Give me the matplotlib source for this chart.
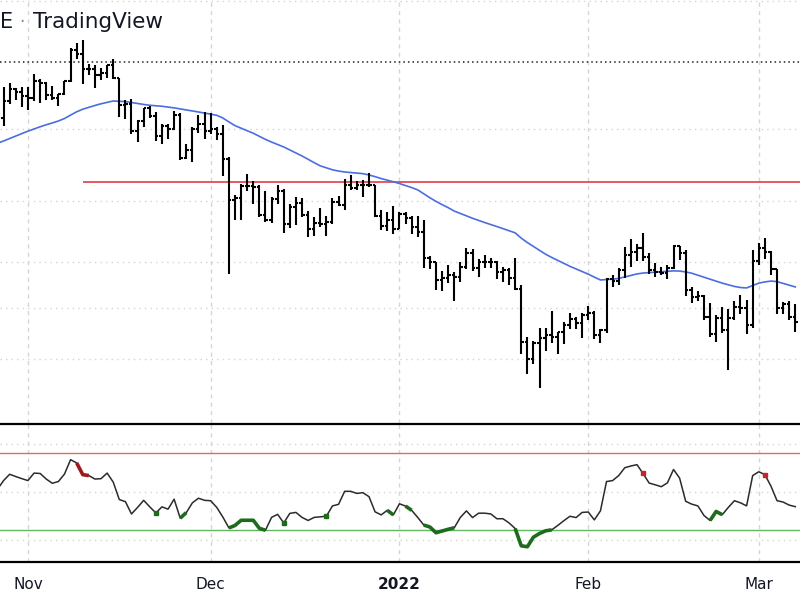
import matplotlib
matplotlib.use("Agg")
import matplotlib.pyplot as plt
import matplotlib.dates as mdates
import numpy as np
import pandas as pd

# Daily bars, 27 Oct 2021 - 7 Mar 2022
dates = pd.date_range("2021-10-27", "2022-03-07", freq="D")

opens = [60350, 58450, 60620, 62250, 61850, 61320, 61000, 63230, 62930, 61400,
         61000, 61500, 63300, 67550, 66950, 64900, 64900, 64100, 64400, 65500,
         63600, 60100, 60300, 56900, 58100, 59700, 58700, 56300, 57500, 57100,
         58900, 53700, 54700, 57200, 57800, 56900, 57200, 56500, 53600, 49200,
         49400, 50600, 50600, 50500, 47600, 47100, 49300, 50100, 46700, 48400,
         48900, 47600, 46200, 46800, 46700, 46900, 49000, 48600, 50800, 50400,
         50800, 50700, 50700, 47500, 46500, 47100, 46200, 47700, 47300, 46400,
         45900, 43500, 43100, 41500, 41700, 41900, 41800, 42700, 43900, 42600,
         43100, 43100, 43100, 42200, 42400, 41700, 40700, 36400, 35100, 36300,
         36700, 36900, 36800, 37200, 37700, 38200, 37900, 38500, 38700, 36900,
         37300, 41600, 41400, 42400, 43800, 44000, 44400, 43600, 42400, 42200,
         42100, 42600, 44600, 43900, 40600, 40000, 40100, 38400, 37000, 38300,
         37300, 38300, 39200, 39100, 37700, 43200, 44400, 44000, 42500, 39100,
         39400, 38400]
highs = [61500, 62480, 62930, 62300, 62400, 62400, 64250, 63500, 63100, 62600,
         61600, 63300, 67800, 68500, 69000, 65600, 65400, 65000, 65500, 66300,
         63600, 60800, 60900, 58300, 59800, 60000, 59200, 57800, 57700, 59400,
         59100, 55300, 57400, 58900, 59200, 59100, 57400, 57600, 53900, 49700,
         50900, 51900, 51200, 50800, 50100, 49500, 50800, 50300, 48700, 49500,
         49400, 48000, 47400, 48300, 47500, 49400, 49600, 51400, 51800, 51200,
         51300, 52100, 50700, 48100, 47900, 48500, 47900, 47900, 47500, 47500,
         47100, 43700, 43100, 42300, 42800, 42200, 43100, 44400, 44300, 43400,
         43800, 43500, 43200, 42700, 42600, 43500, 41100, 36800, 36500, 37500,
         37500, 38900, 37200, 38000, 38700, 38400, 38700, 39300, 38900, 37400,
         41700, 41900, 42600, 44500, 45300, 44800, 45800, 43900, 43000, 42700,
         42800, 44700, 44600, 44200, 40900, 40500, 40200, 39500, 38500, 39200,
         39000, 39700, 40200, 39800, 44200, 44900, 45400, 44100, 42500, 39600,
         39700, 39400]
lows = [58000, 57450, 60200, 60700, 59900, 59500, 60650, 60400, 60700, 60800,
        60000, 61400, 63100, 66300, 62800, 64100, 62300, 63400, 63600, 63500,
        58600, 58400, 56500, 55600, 57400, 58500, 55700, 55300, 55900, 57000,
        53500, 53600, 53300, 56700, 55900, 56500, 55800, 51700, 42000, 47100,
        47100, 50100, 48700, 47400, 46900, 46800, 48700, 45800, 46300, 46600,
        47400, 45500, 45600, 46400, 45600, 46700, 48500, 48100, 50200, 50200,
        49500, 50500, 47400, 46100, 46000, 45700, 46200, 46700, 45700, 45500,
        42600, 42500, 40600, 40500, 41200, 39700, 41300, 42500, 42300, 41800,
        42600, 42600, 41600, 41300, 41100, 40600, 35500, 34000, 34700, 33000,
        35700, 36300, 35500, 36200, 37400, 37400, 36700, 38100, 36600, 36300,
        37100, 40900, 41100, 41700, 42700, 43200, 43200, 42000, 41800, 41900,
        41600, 42500, 43300, 40100, 39500, 39700, 38100, 36800, 36400, 37100,
        34300, 38100, 38600, 37000, 37500, 42800, 43400, 41900, 38600, 38600,
        38100, 37200]
closes = [58450, 60620, 62250, 61850, 61320, 61000, 63230, 62930, 61400, 61000,
          61500, 63300, 67550, 66950, 64900, 64900, 64100, 64400, 65500, 63600,
          60100, 60300, 56900, 58100, 59700, 58700, 56300, 57500, 57100, 58900,
          53700, 54700, 57200, 57800, 56900, 57200, 56500, 53600, 49200, 49400,
          50600, 50600, 50500, 47600, 47100, 49300, 50100, 46700, 48400, 48900,
          47600, 46200, 46800, 46700, 46900, 49000, 48600, 50800, 50400, 50800,
          50700, 50700, 47500, 46500, 47100, 46200, 47700, 47300, 46400, 45900,
          43500, 43100, 41500, 41700, 41900, 41800, 42700, 43900, 42600, 43100,
          43100, 43100, 42200, 42400, 41700, 40700, 36400, 35100, 36300, 36700,
          36900, 36800, 37200, 37700, 38200, 37900, 38500, 38700, 36900, 37300,
          41600, 41400, 42400, 43800, 44000, 44400, 43600, 42400, 42200, 42100,
          42600, 44600, 43900, 40600, 40000, 40100, 38400, 37000, 38300, 37300,
          38300, 39200, 39100, 37700, 43200, 44400, 44000, 42500, 39100, 39400,
          38400, 38000]

# moving average line
ema = [55441, 55710, 56006, 56305, 56592, 56879, 57145, 57413, 57658, 57877,
       58121, 58427, 58852, 59264, 59591, 59833, 60063, 60280, 60458, 60636,
       60598, 60560, 60445, 60318, 60190, 60089, 60025, 59962, 59860, 59757,
       59630, 59502, 59377, 59239, 59102, 58964, 58827, 58489, 57999, 57548,
       57242, 56950, 56628, 56269, 55899, 55581, 55300, 55008, 54657, 54314,
       53970, 53581, 53209, 52850, 52637, 52412, 52269, 52170, 52105, 52039,
       51984, 51841, 51653, 51447, 51271, 51099, 50905, 50690, 50475, 50228,
       49817, 49396, 49021, 48681, 48371, 48023, 47781, 47539, 47296, 47076,
       46868, 46671, 46473, 46266, 46070, 45857, 45344, 44924, 44554, 44186,
       43825, 43528, 43252, 42970, 42716, 42480, 42247, 42016, 41750, 41501,
       41537, 41572, 41634, 41767, 41900, 42034, 42114, 42149, 42185, 42229,
       42265, 42309, 42292, 42211, 42096, 41918, 41741, 41554, 41379, 41223,
       41075, 40936, 40840, 40805, 41014, 41223, 41327, 41405, 41353, 41197,
       41049, 40892]

# RSI panel
rsi = [51.3, 55.8, 59.1, 57.9, 56.8, 55.8, 59.7, 59.5, 56.6, 54.4,
       55.3, 59.2, 66.7, 65.0, 58.9, 58.4, 56.6, 56.8, 59.7, 55.0,
       45.9, 44.8, 38.4, 41.8, 45.5, 42.1, 38.9, 42.1, 40.9, 46.1,
       36.2, 39.1, 44.2, 46.6, 45.5, 45.3, 41.8, 36.8, 31.1, 32.4,
       35.1, 35.1, 35.1, 30.9, 29.9, 36.6, 38.2, 33.7, 38.7, 39.2,
       36.6, 35.0, 36.6, 36.9, 37.2, 42.6, 43.4, 50.2, 50.2, 49.1,
       49.5, 47.4, 39.5, 37.9, 40.3, 37.9, 43.7, 42.5, 40.3, 36.6,
       32.6, 31.6, 28.6, 29.5, 30.4, 31.2, 36.6, 40.0, 36.5, 38.8,
       38.8, 38.4, 35.9, 35.9, 33.7, 30.8, 21.8, 21.3, 26.3, 28.2,
       29.6, 30.1, 32.4, 34.9, 37.2, 36.5, 39.2, 39.4, 35.3, 40.0,
       55.3, 55.8, 58.4, 62.5, 63.4, 64.1, 59.5, 54.5, 53.6, 52.6,
       54.6, 61.6, 57.1, 45.0, 43.5, 42.6, 37.6, 35.0, 39.7, 38.0,
       41.8, 45.3, 44.2, 42.6, 58.4, 60.4, 58.9, 52.9, 45.3, 44.6,
       43.0, 42.2]

red_spans = [("2021-11-09", "2021-11-11")]
red_points = ["2022-02-10", "2022-03-02"]
green_spans = [("2021-11-26", "2021-11-27"), ("2021-12-04", "2021-12-10"),
               ("2021-12-30", "2021-12-31"), ("2022-01-02", "2022-01-03"),
               ("2022-01-05", "2022-01-10"), ("2022-01-20", "2022-01-26"),
               ("2022-02-21", "2022-02-23")]
green_points = ["2021-11-22", "2021-12-13", "2021-12-20"]

resistance = 51075
dotted_level = 65800
price_grid = [35080, 39080, 43140, 49090, 57160, 74900]
rsi_grid = [25, 50, 75]
month_ticks = ["2021-11-01", "2021-12-01", "2022-01-01", "2022-02-01", "2022-03-01"]
month_labels = ["Nov", "Dec", "2022", "Feb", "Mar"]

x = mdates.date2num(dates)
rsi = np.array(rsi)
tick_x = mdates.date2num(pd.to_datetime(month_ticks))

fig = plt.figure(figsize=(8, 6), dpi=100)
ax = fig.add_axes([0, 177 / 600, 1, 423 / 600])
ax2 = fig.add_axes([0, 38.3 / 600, 1, 137.7 / 600], sharex=ax)

# main pane
ax.set_yscale("log")
ax.set_ylim(30651, 75102)
ax.set_xlim(mdates.date2num(pd.Timestamp("2021-10-28")) - 0.59,
            mdates.date2num(pd.Timestamp("2022-03-07")) + 0.77)
for p in price_grid:
    ax.axhline(p, color="#d4d4d4", lw=1, ls=(0, (1, 3)), zorder=0)
for t in tick_x:
    ax.axvline(t, color="#d6d6d6", lw=1, ls=(0, (3, 3)), zorder=0)
ax.axhline(dotted_level, color="#222222", lw=1.1, ls=(0, (1, 2)), zorder=1)
ax.hlines(resistance, mdates.date2num(pd.Timestamp("2021-11-10")), x[-1] + 5,
          color="#e03c4a", lw=1.2, zorder=2)
ax.plot(x, ema, color="#4a6ee0", lw=1.2, zorder=3)

ax.vlines(x, lows, highs, color="black", lw=1.5, zorder=4)
ax.hlines(opens, x - 0.42, x, color="black", lw=1.5, zorder=4)
ax.hlines(closes, x, x + 0.42, color="black", lw=1.5, zorder=4)

for s in ax.spines.values():
    s.set_visible(False)
ax.minorticks_off()
ax.set_yticks([])
ax.tick_params(which="both", left=False, bottom=False, labelleft=False, labelbottom=False)

# RSI pane
ax2.set_ylim(13.5, 85.3)
for v in rsi_grid:
    ax2.axhline(v, color="#d4d4d4", lw=1, ls=(0, (1, 3)), zorder=0)
for t in tick_x:
    ax2.axvline(t, color="#d6d6d6", lw=1, ls=(0, (3, 3)), zorder=0)
ax2.axhline(70, color="#e06c62", lw=1, zorder=1)
ax2.axhline(30, color="#62b862", lw=1, zorder=1)
ax2.plot(x, rsi, color="#2b2b2b", lw=1.1, zorder=2)

for s, e in green_spans:
    m = (dates >= s) & (dates <= e)
    ax2.plot(x[m], rsi[m], color="#1d6b1d", lw=2.6, zorder=3, solid_capstyle="butt")
for s, e in red_spans:
    m = (dates >= s) & (dates <= e)
    ax2.plot(x[m], rsi[m], color="#9e1b1b", lw=2.6, zorder=3, solid_capstyle="butt")
for d in green_points:
    m = dates == d
    ax2.plot(x[m], rsi[m], "s", color="#1d6b1d", ms=3.2, zorder=3)
for d in red_points:
    m = dates == d
    ax2.plot(x[m], rsi[m], "s", color="#c0262c", ms=3.2, zorder=3)

for side in ["left", "right"]:
    ax2.spines[side].set_visible(False)
for side in ["top", "bottom"]:
    ax2.spines[side].set_color("black")
    ax2.spines[side].set_linewidth(1.6)
ax2.set_yticks([])
ax2.set_xticks(tick_x)
ax2.set_xticklabels(month_labels, fontsize=11, color="#131722")
ax2.get_xticklabels()[2].set_fontweight("bold")
ax2.tick_params(axis="x", length=0, pad=11)

# watermark / title fragment
fig.text(0.5 / 800, 1 - 22 / 600, "E", fontsize=15, color="#131722", va="center", ha="left")
fig.text(22 / 800, 1 - 22 / 600, "·", fontsize=12, color="#888888", va="center", ha="center")
fig.text(33 / 800, 1 - 22 / 600, "TradingView", fontsize=15.5, color="#131722",
         va="center", ha="left")

fig.savefig("out.png", dpi=100)
